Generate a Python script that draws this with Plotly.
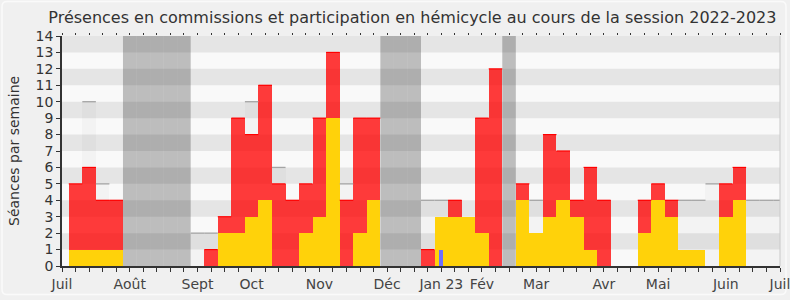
import plotly.graph_objects as go

# ---- data (one entry per week, week 0 = début juillet 2022) ----
semaines = list(range(54))
commission = [0, 1, 1, 1, 1, 0, 0, 0, 0, 0,
              0, 0, 2, 2, 3, 4, 0, 0, 2, 3,
              9, 0, 2, 4, 0, 0, 0, 0, 3, 3,
              3, 2, 0, 0, 4, 2, 3, 4, 3, 1,
              0, 0, 0, 2, 4, 3, 1, 1, 0, 3,
              4, 0, 0, 0]
hemicycle = [0, 4, 5, 3, 3, 0, 0, 0, 0, 0,
             0, 1, 1, 7, 5, 7, 5, 4, 3, 6,
             4, 4, 7, 5, 0, 0, 0, 1, 0, 1,
             0, 7, 12, 0, 1, 0, 5, 3, 1, 5,
             4, 0, 0, 2, 1, 1, 0, 0, 0, 2,
             2, 0, 0, 0]
mediane = [None, None, 10, 5, None, None, None, None, None, None,
           2, 2, None, None, 10, None, 6, None, None, None,
           None, 5, None, None, None, None, None, 4, 4, None,
           None, None, None, None, None, 4, None, None, None, None,
           None, None, None, None, None, None, 4, 4, 5, None,
           None, 4, 4, 4]
questions_orales = [0] * 28 + [1] + [0] * 25
vacances = [5, 6, 7, 8, 9, 24, 25, 26, 33]

mois_pos = [0, 5, 10, 14, 19, 24, 28, 31, 35, 40, 44, 49, 53]
mois_lab = ["Juil", "Août", "Sept", "Oct", "Nov", "Déc", "Jan 23", "Fév",
            "Mar", "Avr", "Mai", "Juin", "Juil"]

FONT = "DejaVu Sans"
total = [c + h for c, h in zip(commission, hemicycle)]

fig = go.Figure()

# median (visible part above activity)
mx, mbase, mh = [], [], []
lx, ly = [], []
for w, m, t in zip(semaines, mediane, total):
    if m is not None and m > t:
        mx.append(w); mbase.append(t); mh.append(m - t)
        lx += [w - 0.5, w + 0.5, None]; ly += [m, m, None]
fig.add_trace(go.Bar(x=mx, y=mh, base=mbase, width=1,
                     marker=dict(color="rgba(0,0,0,0.025)", line=dict(width=0)),
                     hoverinfo="skip", showlegend=False))
fig.add_trace(go.Scatter(x=lx, y=ly, mode="lines",
                         line=dict(color="#a4a4a4", width=1.3),
                         hoverinfo="skip", showlegend=False))

# commission (yellow)
fig.add_trace(go.Bar(x=semaines, y=commission, width=1,
                     marker=dict(color="#FFD20A", line=dict(width=0)),
                     name="Commission", showlegend=False))
# hemicycle (red, semi transparent)
fig.add_trace(go.Bar(x=semaines, y=hemicycle, base=commission, width=1,
                     marker=dict(color="rgba(255,0,0,0.77)", line=dict(width=0)),
                     name="Hémicycle", showlegend=False))
rx, ry = [], []
for w, h, t in zip(semaines, hemicycle, total):
    if h > 0:
        rx += [w - 0.5, w + 0.5, None]; ry += [t, t, None]
fig.add_trace(go.Scatter(x=rx, y=ry, mode="lines",
                         line=dict(color="#FF0000", width=1.2),
                         hoverinfo="skip", showlegend=False))
# questions orales (blue)
fig.add_trace(go.Bar(x=semaines, y=questions_orales, width=0.27,
                     marker=dict(color="#6E6EFF", line=dict(width=0)),
                     name="Questions orales", showlegend=False))
# dummy trace for top tick axis
fig.add_trace(go.Scatter(x=[0], y=[0], xaxis="x2", mode="markers",
                         marker=dict(opacity=0), hoverinfo="skip", showlegend=False))

shapes = []
for n in range(1, 14, 2):
    shapes.append(dict(type="rect", xref="paper", yref="y", x0=0, x1=1, y0=n, y1=n + 1,
                       fillcolor="#E5E5E5", line=dict(width=0), layer="below"))
for w in vacances:
    shapes.append(dict(type="rect", xref="x", yref="paper", x0=w - 0.5, x1=w + 0.5, y0=0, y1=1,
                       fillcolor="rgba(0,0,0,0.24)", line=dict(width=0), layer="below"))
shapes.append(dict(type="line", xref="paper", yref="paper", x0=1, x1=1, y0=0, y1=1,
                   line=dict(color="#c8c8c8", width=1)))

# outer rounded frame
L, R, T, B = 62, 780, 36, 266
def px(v): return (v - L) / (R - L)
def py(v): return (B - v) / (B - T)
x0, x1, y0, y1, r = 2, 786, 1.5, 294.5, 5
path = (f"M {px(x0+r)},{py(y0)} L {px(x1-r)},{py(y0)} Q {px(x1)},{py(y0)} {px(x1)},{py(y0+r)} "
        f"L {px(x1)},{py(y1-r)} Q {px(x1)},{py(y1)} {px(x1-r)},{py(y1)} "
        f"L {px(x0+r)},{py(y1)} Q {px(x0)},{py(y1)} {px(x0)},{py(y1-r)} "
        f"L {px(x0)},{py(y0+r)} Q {px(x0)},{py(y0)} {px(x0+r)},{py(y0)} Z")
shapes.append(dict(type="path", xref="paper", yref="paper", path=path,
                   line=dict(color="#FAFAFA", width=1.5), layer="below"))

fig.update_layout(
    width=790, height=300,
    margin=dict(l=L, r=790 - R, t=T, b=300 - B, autoexpand=False),
    paper_bgcolor="#F0F0F0", plot_bgcolor="#F9F9F9",
    barmode="overlay", bargap=0,
    font=dict(family=FONT, color="#333333"),
    title=dict(text="Présences en commissions et participation en hémicycle au cours de la session 2022-2023",
               font=dict(family=FONT, size=16, color="#333333"),
               x=0.522, xref="container", xanchor="center",
               y=1 - 17 / 300, yref="container", yanchor="middle"),
    xaxis=dict(range=[0, 53], tickvals=semaines,
               ticktext=[mois_lab[mois_pos.index(w)] if w in mois_pos else "" for w in semaines],
               ticks="outside", ticklen=4, tickcolor="#333333", tickwidth=1,
               showline=True, linecolor="#333333", linewidth=1.5,
               showgrid=False, zeroline=False, ticklabeloverflow="allow", automargin=False,
               tickfont=dict(family=FONT, size=14, color="#444444")),
    xaxis2=dict(range=[0, 53], overlaying="x", side="top", anchor="y",
                tickvals=semaines, ticks="outside", ticklen=2, tickcolor="#333333",
                showticklabels=False, showline=False, showgrid=False, zeroline=False),
    yaxis=dict(range=[0, 14], tickvals=list(range(15)), automargin=False,
               ticks="outside", ticklen=4, tickcolor="#333333", tickwidth=1,
               showline=True, linecolor="#333333", linewidth=1.5,
               showgrid=False, zeroline=False,
               tickfont=dict(family=FONT, size=14, color="#333333")),
    shapes=shapes,
    annotations=[dict(text="Séances par semaine", textangle=-90,
                      xref="paper", yref="paper", x=px(14), y=py(151),
                      xanchor="center", yanchor="middle", showarrow=False,
                      font=dict(family=FONT, size=14, color="#333333"))],
)

fig.write_html("out.html")
